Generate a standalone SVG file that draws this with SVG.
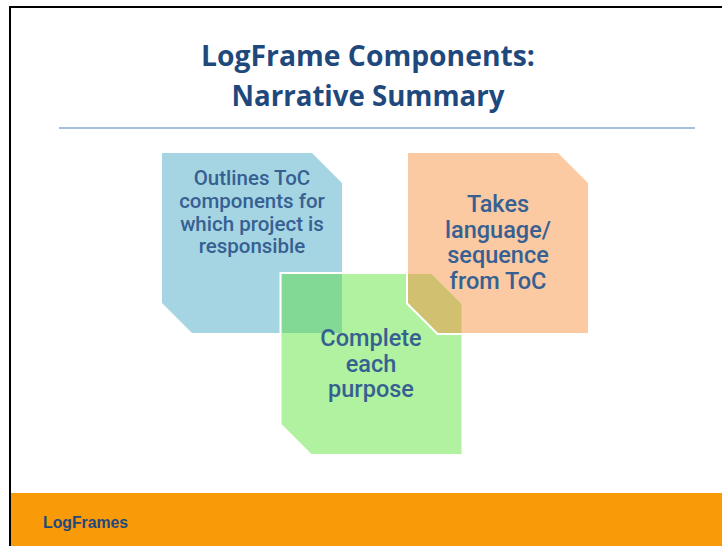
<svg xmlns="http://www.w3.org/2000/svg" width="722" height="546" viewBox="0 0 722 546">
<style>
.title{font-family:"Open Sans","Liberation Sans",sans-serif;font-weight:700;font-size:28.300px;fill:#1F497D;text-anchor:middle}
.t{font-family:Roboto,"Liberation Sans",sans-serif;font-weight:500;fill:#376092;text-anchor:middle}
.s{font-size:20.500px}
.m{font-size:23.500px}
.w{fill:none;stroke:#fff;stroke-width:2}
</style>
<rect width="722" height="546" fill="#fff"/>
<g id="frame"><path d="M10 546V7H722" fill="none" stroke="#000" stroke-width="2"/></g>
<g id="header">
<text class="title" x="368" y="66">LogFrame Components:</text>
<text class="title" x="368" y="106" textLength="273" lengthAdjust="spacingAndGlyphs">Narrative Summary</text>
<rect x="59" y="127" width="636" height="2" fill="#A4C0DE"/>
</g>
<g id="node-outlines">
<polygon points="162,153 312,153 342,183 342,333 192,333 162,303" fill="#A5D5E2"/>
</g>
<g id="node-takes">
<polygon points="408,153 558,153 588,183 588,333 438,333 408,303" fill="#FBCAA2"/>
</g>
<g id="node-complete">
<polygon points="281.500,274 431.500,274 461.500,304 461.500,454 311.500,454 281.500,424" fill="#B0F2A0"/>
<rect x="281.500" y="274" width="60.500" height="59" fill="#82D995"/>
<polygon points="408,274 431.500,274 461.500,304 461.500,333 438,333 408,303" fill="#D1C06F"/>
<path class="w" d="M280.500 333V273H342"/>
<path class="w" d="M407 274V303.500L437.500 334H461.500"/>
</g>
<g id="labels">
<text class="t s" x="252" y="185">Outlines ToC</text>
<text class="t s" x="252" y="208">components for</text>
<text class="t s" x="252" y="231">which project is</text>
<text class="t s" x="252" y="253">responsible</text>
<text class="t m" x="498" y="212">Takes</text>
<text class="t m" x="498" y="238">language/</text>
<text class="t m" x="498" y="263">sequence</text>
<text class="t m" x="498" y="289">from ToC</text>
<text class="t m" x="371" y="346">Complete</text>
<text class="t m" x="371" y="372">each</text>
<text class="t m" x="371" y="397">purpose</text>
</g>
<g id="footer">
<rect x="11" y="493" width="711" height="53" fill="#F99A09"/>
<text x="43" y="528" font-family="Liberation Sans,Arial,sans-serif" font-weight="700" font-size="15.800px" fill="#1F497D">LogFrames</text>
</g>
</svg>
